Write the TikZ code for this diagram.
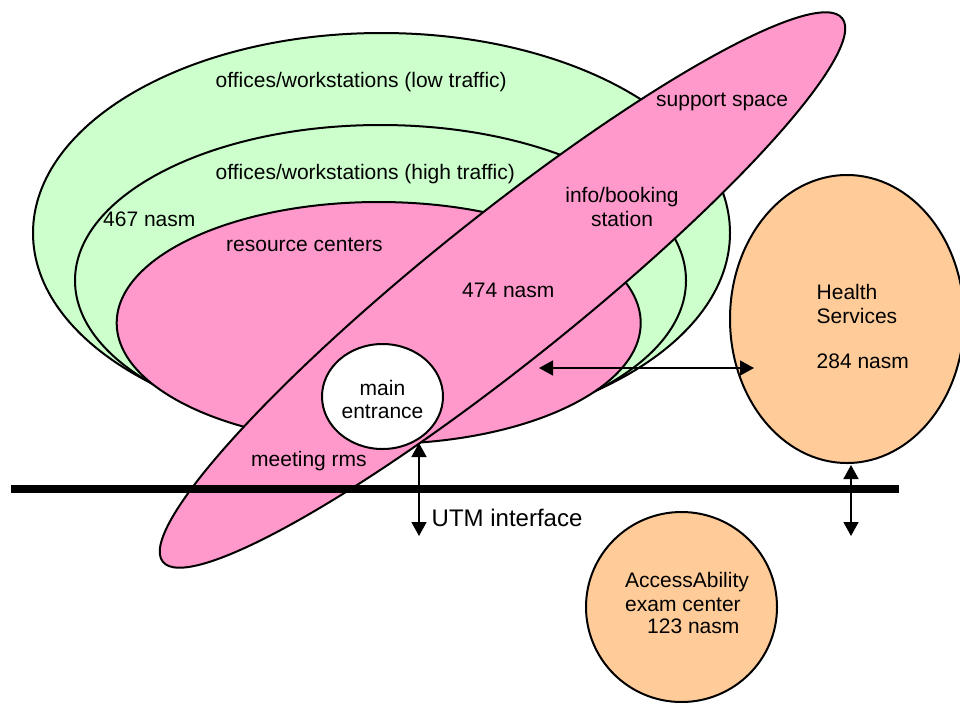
\documentclass[tikz,border=0pt]{standalone}
\usepackage{fontspec}
\setmainfont{Liberation Sans}
\usetikzlibrary{shapes.geometric,arrows.meta}
\definecolor{lgreen}{HTML}{CCFFCC}
\definecolor{lpink}{HTML}{FF99CC}
\definecolor{lorange}{HTML}{FFCC99}
\begin{document}
\begin{tikzpicture}[x=1pt,y=1pt,
  zone/.style={ellipse, draw=black, line width=2pt, inner sep=0pt, outer sep=0pt},
  lbl/.style={font=\fontsize{21}{24}\selectfont, inner sep=0pt, anchor=base west},
  clbl/.style={font=\fontsize{21}{24}\selectfont, inner sep=0pt, anchor=base},
  dbl/.style={{Triangle[length=14pt,width=15pt]}-{Triangle[length=14pt,width=15pt]}, line width=1.5pt}]
\useasboundingbox (0,0) rectangle (960,-702);
% zones
\node[zone, fill=lgreen, minimum width=697, minimum height=400] (low) at (381.5,-233) {};
\node[zone, fill=lgreen, minimum width=611, minimum height=311] (high) at (380.5,-280.5) {};
\node[zone, fill=lpink, minimum width=524, minimum height=242] (res) at (378.7,-323) {};
\node[zone, fill=lpink, minimum width=870, minimum height=146, rotate=38.66] (diag) at (502.5,-290) {};
\node[zone, fill=white, minimum width=121, minimum height=105] (entr) at (382.5,-396.5) {};
\node[zone, fill=lorange, minimum width=234, minimum height=288] (health) at (847,-319) {};
\node[zone, fill=lorange, minimum width=191, minimum height=190] (access) at (681.5,-607) {};
% UTM bar
\coordinate (barL) at (11,-488.5);
\coordinate (barR) at (899,-488.5);
\draw[line width=8pt] (barL) -- (barR);
% arrows
\coordinate (a1t) at (419,-443);
\coordinate (a1b) at (419,-536);
\coordinate (a2l) at (539,-368);
\coordinate (a2r) at (754,-368);
\coordinate (a3t) at (851,-465);
\coordinate (a3b) at (851,-536);
\draw[dbl] (a1t) -- (a1b);
\draw[dbl] (a2l) -- (a2r);
\draw[dbl] (a3t) -- (a3b);
% labels
\node[lbl] (tlow) at (215.5,-87) {offices/workstations (low traffic)};
\node[lbl] (thigh) at (215.5,-179) {offices/workstations (high traffic)};
\node[lbl] (t467) at (103,-226.5) {467 nasm};
\node[lbl] (tres) at (226,-251.5) {resource centers};
\node[lbl] (t474) at (462,-297.5) {474 nasm};
\node[lbl] (tsup) at (656,-106.5) {support space};
\node[clbl] (tinfo) at (622,-202.5) {info/booking};
\node[clbl] (tstat) at (622,-226.7) {station};
\node[clbl] (tmain) at (382.5,-395) {main};
\node[clbl] (tentr) at (382.5,-418.3) {entrance};
\node[lbl] (tmeet) at (251,-466.7) {meeting rms};
\node[lbl, font=\fontsize{24}{28}\selectfont] (tutm) at (431.5,-526.7) {UTM interface};
\node[lbl] (thealth) at (816.5,-299.3) {Health};
\node[lbl] (tserv) at (816.5,-323.3) {Services};
\node[lbl] (t284) at (816.5,-368.3) {284 nasm};
\node[lbl] (tacc) at (625,-587.3) {AccessAbility};
\node[lbl] (texam) at (625,-611.7) {exam center};
\node[lbl] (t123) at (647,-633.3) {123 nasm};
\end{tikzpicture}
\end{document}
